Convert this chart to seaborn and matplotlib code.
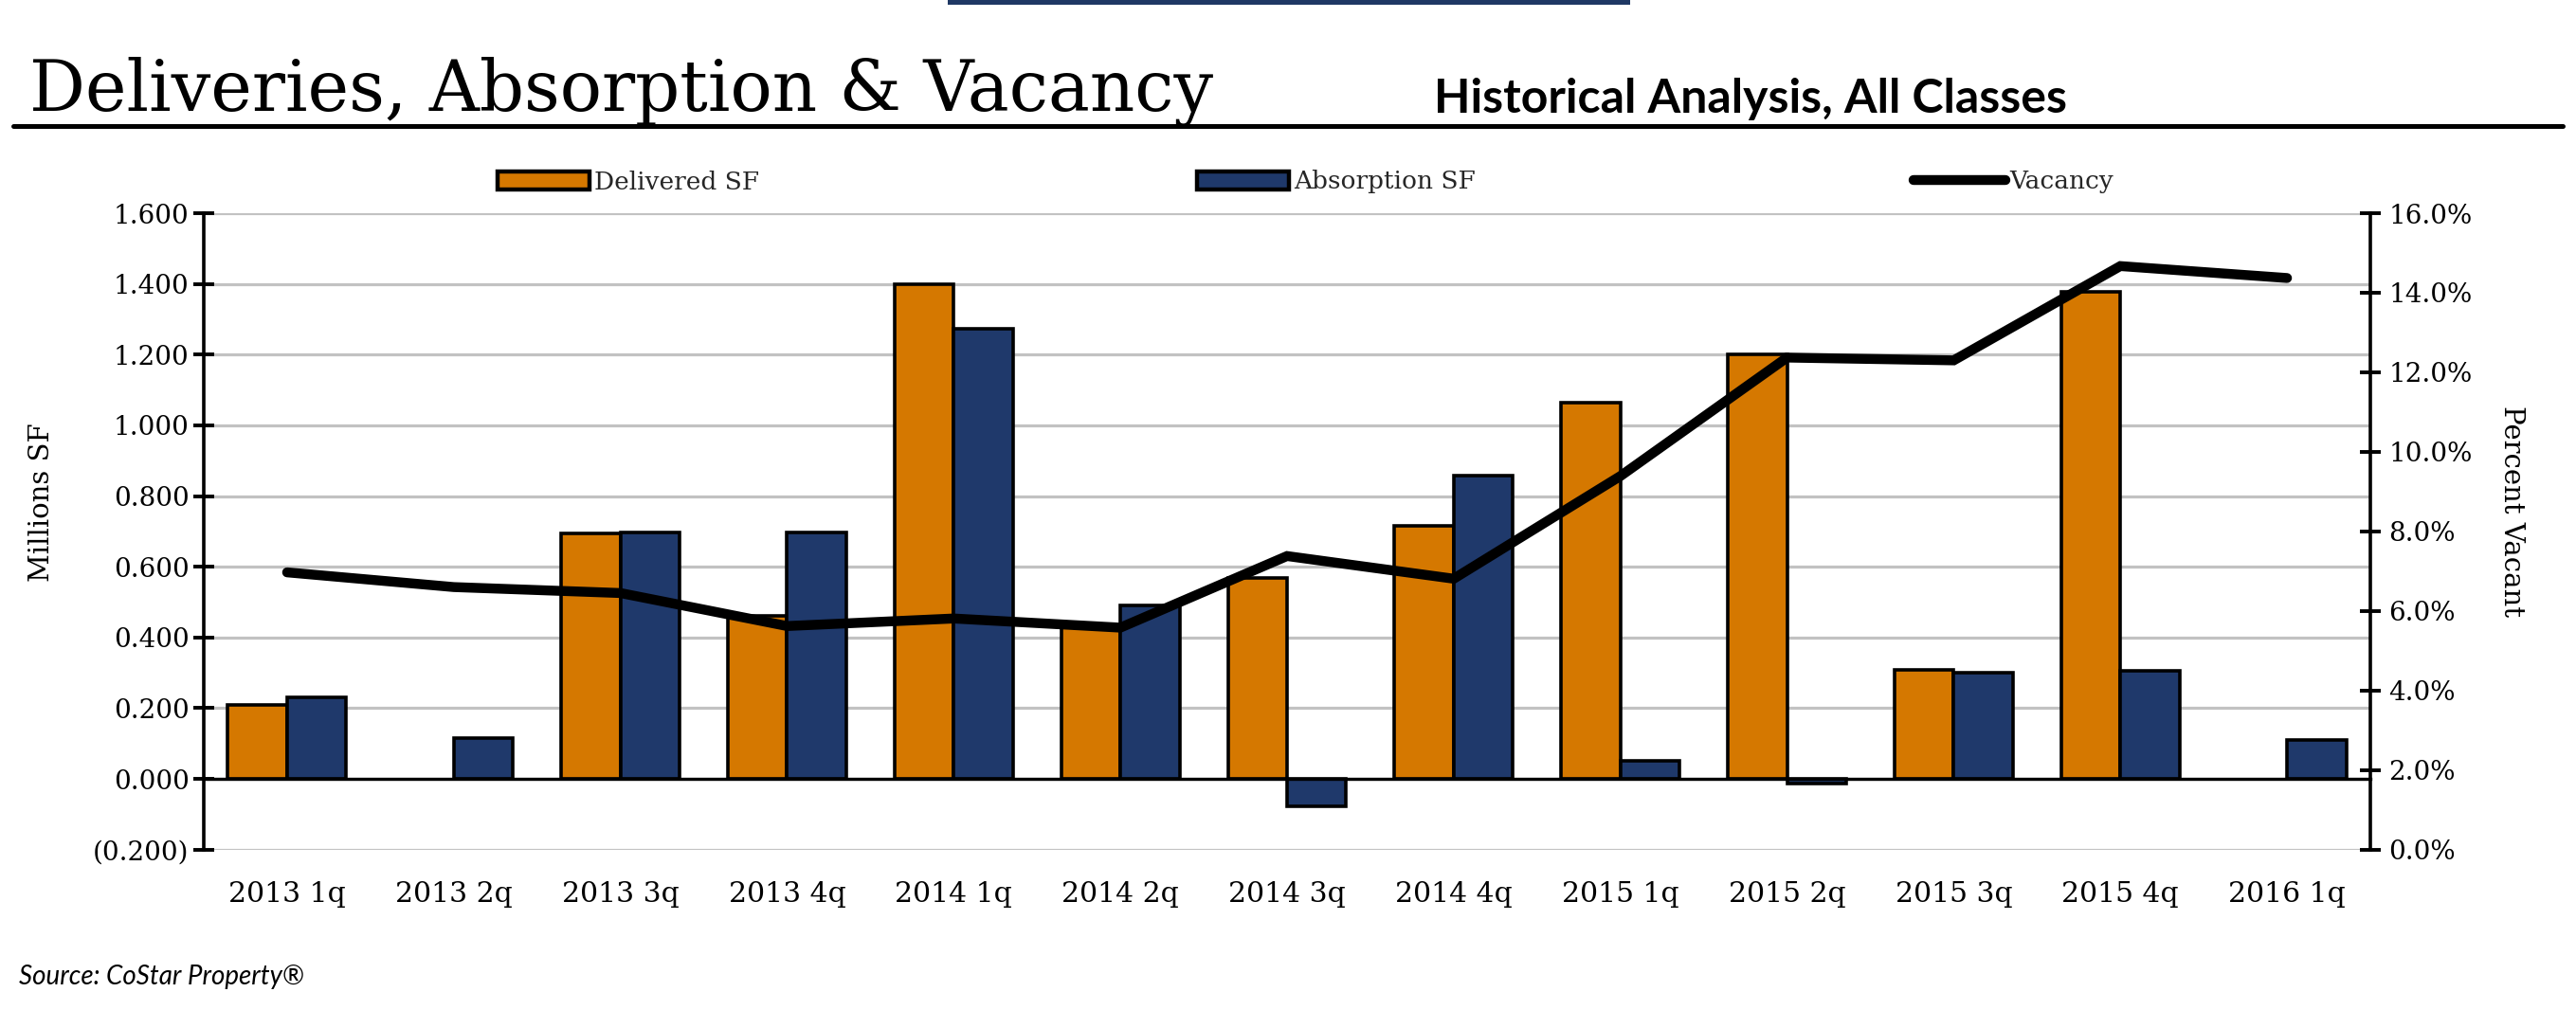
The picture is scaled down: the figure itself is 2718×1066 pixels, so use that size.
import numpy as np
import pandas as pd
import matplotlib
matplotlib.use("Agg")
import matplotlib.pyplot as plt
import matplotlib.ticker as mticker
from matplotlib.patches import Patch, Rectangle
from matplotlib.lines import Line2D
import seaborn as sns

# ---------------- data ----------------
quarters = ["2013 1q", "2013 2q", "2013 3q", "2013 4q",
            "2014 1q", "2014 2q", "2014 3q", "2014 4q",
            "2015 1q", "2015 2q", "2015 3q", "2015 4q", "2016 1q"]
delivered = [0.208, 0.0, 0.695, 0.460, 1.400, 0.433, 0.568, 0.717,
             1.065, 1.201, 0.309, 1.378, 0.0]
absorption = [0.231, 0.115, 0.696, 0.698, 1.273, 0.490, -0.077, 0.857,
              0.052, -0.013, 0.299, 0.307, 0.109]
vacancy = [6.97, 6.60, 6.45, 5.62, 5.81, 5.58, 7.38, 6.81,
           9.39, 12.37, 12.30, 14.67, 14.37]
series_names = ["Delivered SF", "Absorption SF"]
vacancy_name = "Vacancy"
left_ticks = [-0.2, 0.0, 0.2, 0.4, 0.6, 0.8, 1.0, 1.2, 1.4, 1.6]
right_ticks = [0, 2, 4, 6, 8, 10, 12, 14, 16]

title = "Deliveries, Absorption & Vacancy"
subtitle = "Historical Analysis, All Classes"
left_label = "Millions SF"
right_label = "Percent Vacant"
source = "Source: CoStar Property\u00ae"

ORANGE = "#D57800"
NAVY = "#1F396B"
GRID = "#C2C2C2"

# ---------------- style ----------------
sns.set_theme(style="white")
plt.rcParams["font.family"] = ["DejaVu Serif"]

W, H = 2718, 1066
fig = plt.figure(figsize=(W / 100, H / 100), dpi=100)
fig.patch.set_facecolor("white")

ax_l, ax_r, ax_t, ax_b = 215, 2501, 225, 896.7
ax = fig.add_axes([ax_l / W, 1 - ax_b / H, (ax_r - ax_l) / W, (ax_b - ax_t) / H])

df = pd.DataFrame({
    "Quarter": quarters * 2,
    "Series": [s for s in series_names for _ in quarters],
    "Value": delivered + absorption,
})

sns.barplot(data=df, x="Quarter", y="Value", hue="Series",
            order=quarters, hue_order=series_names,
            palette=[ORANGE, NAVY], saturation=1, width=0.71,
            edgecolor="black", linewidth=2.6, errorbar=None,
            legend=False, ax=ax, zorder=3)
# zero-height bars: no outline (they would just thicken the axis line)
for bar in ax.patches:
    if abs(bar.get_height()) < 1e-12:
        bar.set_linewidth(0)

ax.set_xlim(-0.5, len(quarters) - 0.5)
ax.set_ylim(left_ticks[0], left_ticks[-1])
ax.set_yticks(left_ticks)
ax.yaxis.set_major_formatter(mticker.FuncFormatter(
    lambda v, p: f"({abs(v):.3f})" if v < -1e-9 else f"{v:.3f}"))
ax.set_axisbelow(True)
ax.yaxis.grid(True, color=GRID, lw=2.3)
ax.xaxis.grid(False)
ax.set_xlabel("")
ax.set_ylabel(left_label, fontsize=21, color="black")
ax.yaxis.set_label_coords((58 - ax_l) / (ax_r - ax_l), (ax_b - 530) / (ax_b - ax_t))

for s in ["top", "right"]:
    ax.spines[s].set_visible(False)
ax.spines["left"].set_color("black")
ax.spines["left"].set_linewidth(2.6)
ax.spines["bottom"].set_position(("data", 0))
ax.spines["bottom"].set_color("black")
ax.spines["bottom"].set_linewidth(2.4)
ax.spines["bottom"].set_zorder(4)

ax.xaxis.set_minor_locator(mticker.FixedLocator(np.arange(len(quarters) - 1) + 0.5))
ax.tick_params(axis="x", which="major", length=0, pad=78, labelsize=21.5, colors="black")
ax.tick_params(axis="x", which="minor", direction="inout", length=17, width=2.4, color="black")
ax.tick_params(axis="y", which="major", direction="inout", length=16, width=2.8,
               color="black", labelsize=20, labelcolor="black", pad=3, left=True)

# ---------------- vacancy line ----------------
ax2 = ax.twinx()
sns.lineplot(x=np.arange(len(quarters)), y=vacancy, ax=ax2, color="black",
             lw=7.5, solid_capstyle="round", solid_joinstyle="miter", zorder=5)
ax.set_xlim(-0.5, len(quarters) - 0.5)
ax2.set_ylim(right_ticks[0], right_ticks[-1])
ax2.set_yticks(right_ticks)
ax2.yaxis.set_major_formatter(mticker.FuncFormatter(lambda v, p: f"{v:.1f}%"))
ax2.grid(False)
for s in ["top", "left", "bottom"]:
    ax2.spines[s].set_visible(False)
ax2.spines["right"].set_color("black")
ax2.spines["right"].set_linewidth(2.6)
ax2.tick_params(axis="y", which="major", direction="inout", length=16, width=2.8,
                color="black", labelsize=20, labelcolor="black", pad=6, right=True)
ax2.set_ylabel(right_label, rotation=270, fontsize=21, color="black", va="center")
ax2.yaxis.set_label_coords((2650 - ax_l) / (ax_r - ax_l), (ax_b - 540) / (ax_b - ax_t))

# ---------------- legend ----------------
fs_leg = 19
px = fs_leg * 100 / 72
handles = [Patch(facecolor=ORANGE, edgecolor="black", lw=3.2),
           Patch(facecolor=NAVY, edgecolor="black", lw=3.2),
           Line2D([], [], color="black", lw=7.5, solid_capstyle="round")]
fig.legend(handles, series_names + [vacancy_name], loc="center left",
           bbox_to_anchor=(525 / W, 1 - 192 / H), ncol=3, frameon=False,
           fontsize=fs_leg, handlelength=97 / px, handleheight=0.7,
           handletextpad=5 / px, columnspacing=17.5, borderpad=0, borderaxespad=0)

# ---------------- titles / decorations ----------------
fig.text(31 / W, 1 - 117 / H, title, fontsize=53, va="baseline", ha="left",
         color="black", family=["DejaVu Serif"])
fig.text(1513 / W, 1 - 119 / H, subtitle, fontsize=36, va="baseline", ha="left",
         color="black", family=["Lato", "DejaVu Sans"], weight="bold")
fig.add_artist(Line2D([14 / W, 2704 / W], [1 - 133 / H] * 2, color="black", lw=3.6,
                      transform=fig.transFigure))
fig.add_artist(Rectangle((1000 / W, 1 - 5 / H), 720 / W, 5 / H, facecolor="#1F3864",
                         edgecolor="none", transform=fig.transFigure))
fig.text(20 / W, 1 - 1039 / H, source, fontsize=20, va="baseline", ha="left",
         color="black", family=["Lato", "DejaVu Sans"], style="italic")

fig.savefig("out.png", dpi=100, facecolor="white")
